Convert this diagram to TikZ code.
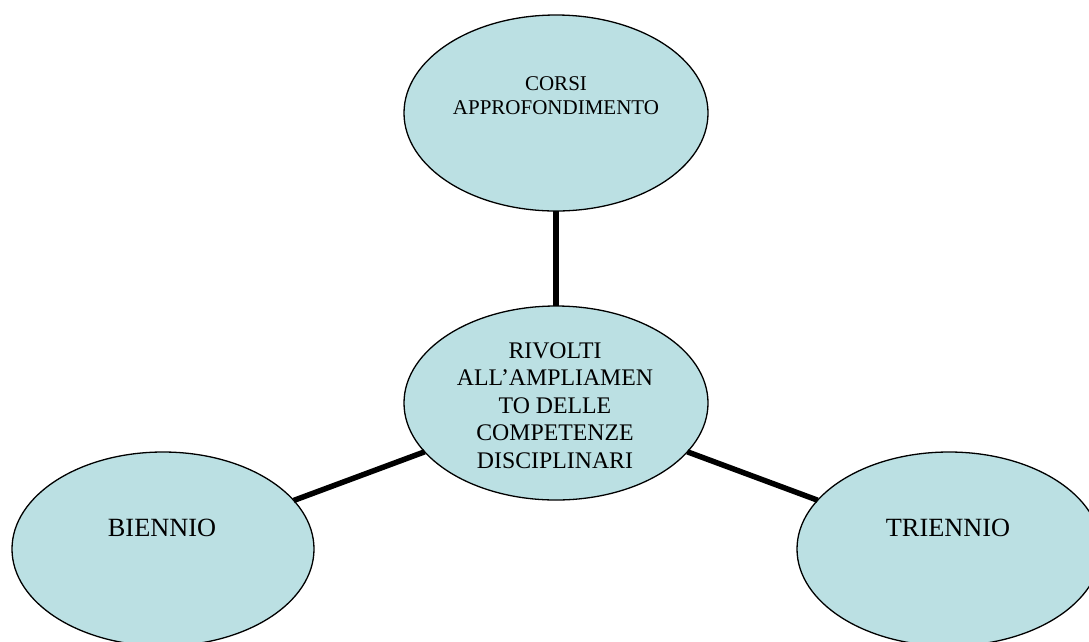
\documentclass[tikz,border=0pt]{standalone}
\usepackage{fontspec}
\setmainfont{Liberation Serif}
\usetikzlibrary{shapes.geometric}
\definecolor{bubble}{RGB}{187,224,227}
\tikzset{
  bubble/.style={ellipse, draw=black, line width=1.3pt, fill=bubble, inner sep=0pt, outer sep=0pt},
  link/.style={line width=5.5pt, draw=black},
  lbl/.style={align=center, inner sep=0pt, text=black}
}
\begin{document}
\begin{tikzpicture}[x=1pt,y=-1pt]
\useasboundingbox (0,0) rectangle (1089,641);
% ellipses
\node[bubble, minimum width=304pt, minimum height=196pt] (top) at (556,113) {};
\node[bubble, minimum width=304pt, minimum height=194pt] (mid) at (556,403) {};
\node[bubble, minimum width=302pt, minimum height=194pt] (left) at (163,549) {};
\node[bubble, minimum width=304pt, minimum height=194pt] (right) at (949,549) {};
% connectors
\draw[link] (top) -- (mid);
\draw[link] (mid) -- (left);
\draw[link] (mid) -- (right);
% texts
\node[lbl, font=\fontsize{21}{24}\selectfont] (toptxt) at (556,96) {CORSI\\APPROFONDIMENTO};
\node[lbl, font=\fontsize{23.8}{27.5}\selectfont] (midtxt) at (555,405.5) {RIVOLTI\\ALL’AMPLIAMEN\\TO DELLE\\COMPETENZE\\DISCIPLINARI};
\node[lbl, font=\fontsize{26.3}{30}\selectfont] (lefttxt) at (162,527.5) {BIENNIO};
\node[lbl, font=\fontsize{26.3}{30}\selectfont] (righttxt) at (948,527.5) {TRIENNIO};
\end{tikzpicture}
\end{document}
